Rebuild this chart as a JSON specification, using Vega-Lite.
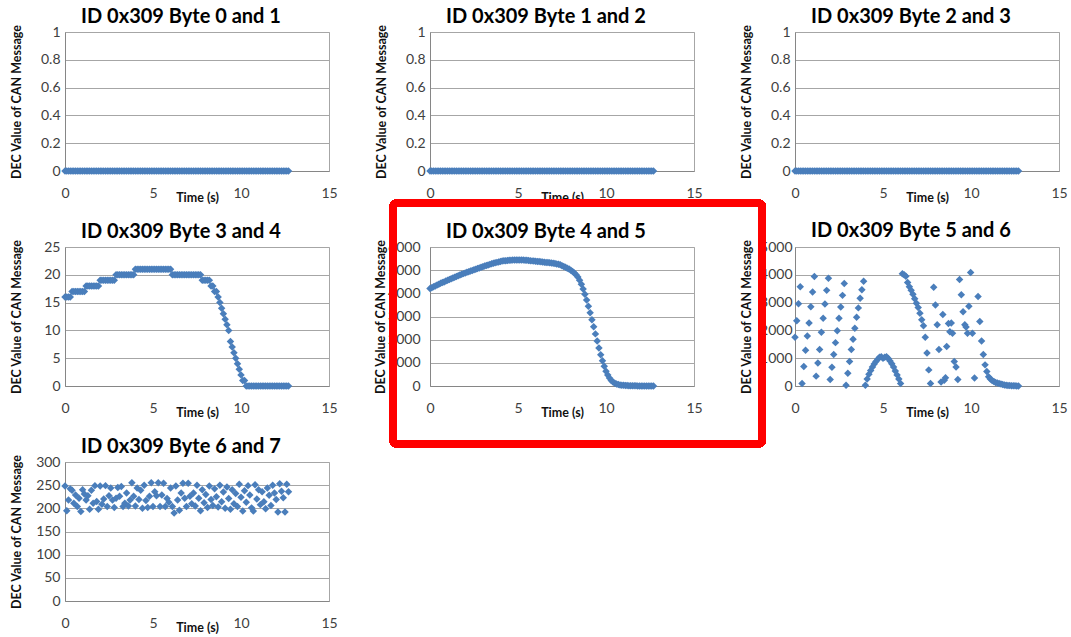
{
  "$schema": "https://vega.github.io/schema/vega-lite/v6.json",
  "background": "white",
  "padding": {"left": 9, "top": 6, "right": 0, "bottom": 0},
  "columns": 3,
  "bounds": "flush",
  "spacing": {"row": 76, "column": 101},
  "config": {
    "font": "Lato",
    "view": {"stroke": "#a6a6a6", "strokeWidth": 1},
    "point": {"shape": "diamond", "filled": true, "size": 56, "color": "#4a7ebb", "opacity": 1},
    "title": {"fontSize": 20, "fontWeight": "bold", "color": "#000000", "anchor": "middle", "dx": -16, "offset": -3},
    "axis": {"gridColor": "#a6a6a6", "gridWidth": 1, "domainColor": "#868686", "domainWidth": 1, "ticks": false, "tickSize": 0, "labelFontSize": 14, "labelColor": "#404040", "labelFlush": false, "labelOverlap": false, "titleFontSize": 12.5, "titleFontWeight": "bold", "titleColor": "#111111"},
    "axisX": {"grid": false, "labelPadding": 15, "titlePadding": -9},
    "axisY": {"labelPadding": 5, "minExtent": 30, "maxExtent": 30, "titlePadding": 12}
  },
  "datasets": {
    "zero": [{"t":0,"v":0},{"t":0.1,"v":0},{"t":0.2,"v":0},{"t":0.3,"v":0},{"t":0.4,"v":0},{"t":0.5,"v":0},{"t":0.6,"v":0},{"t":0.7,"v":0},{"t":0.8,"v":0},{"t":0.9,"v":0},{"t":1,"v":0},{"t":1.1,"v":0},{"t":1.2,"v":0},{"t":1.3,"v":0},{"t":1.4,"v":0},{"t":1.5,"v":0},{"t":1.6,"v":0},{"t":1.7,"v":0},{"t":1.8,"v":0},{"t":1.9,"v":0},{"t":2,"v":0},{"t":2.1,"v":0},{"t":2.2,"v":0},{"t":2.3,"v":0},{"t":2.4,"v":0},{"t":2.5,"v":0},{"t":2.6,"v":0},{"t":2.7,"v":0},{"t":2.8,"v":0},{"t":2.9,"v":0},{"t":3,"v":0},{"t":3.1,"v":0},{"t":3.2,"v":0},{"t":3.3,"v":0},{"t":3.4,"v":0},{"t":3.5,"v":0},{"t":3.6,"v":0},{"t":3.7,"v":0},{"t":3.8,"v":0},{"t":3.9,"v":0},{"t":4,"v":0},{"t":4.1,"v":0},{"t":4.2,"v":0},{"t":4.3,"v":0},{"t":4.4,"v":0},{"t":4.5,"v":0},{"t":4.6,"v":0},{"t":4.7,"v":0},{"t":4.8,"v":0},{"t":4.9,"v":0},{"t":5,"v":0},{"t":5.1,"v":0},{"t":5.2,"v":0},{"t":5.3,"v":0},{"t":5.4,"v":0},{"t":5.5,"v":0},{"t":5.6,"v":0},{"t":5.7,"v":0},{"t":5.8,"v":0},{"t":5.9,"v":0},{"t":6,"v":0},{"t":6.1,"v":0},{"t":6.2,"v":0},{"t":6.3,"v":0},{"t":6.4,"v":0},{"t":6.5,"v":0},{"t":6.6,"v":0},{"t":6.7,"v":0},{"t":6.8,"v":0},{"t":6.9,"v":0},{"t":7,"v":0},{"t":7.1,"v":0},{"t":7.2,"v":0},{"t":7.3,"v":0},{"t":7.4,"v":0},{"t":7.5,"v":0},{"t":7.6,"v":0},{"t":7.7,"v":0},{"t":7.8,"v":0},{"t":7.9,"v":0},{"t":8,"v":0},{"t":8.1,"v":0},{"t":8.2,"v":0},{"t":8.3,"v":0},{"t":8.4,"v":0},{"t":8.5,"v":0},{"t":8.6,"v":0},{"t":8.7,"v":0},{"t":8.8,"v":0},{"t":8.9,"v":0},{"t":9,"v":0},{"t":9.1,"v":0},{"t":9.2,"v":0},{"t":9.3,"v":0},{"t":9.4,"v":0},{"t":9.5,"v":0},{"t":9.6,"v":0},{"t":9.7,"v":0},{"t":9.8,"v":0},{"t":9.9,"v":0},{"t":10,"v":0},{"t":10.1,"v":0},{"t":10.2,"v":0},{"t":10.3,"v":0},{"t":10.4,"v":0},{"t":10.5,"v":0},{"t":10.6,"v":0},{"t":10.7,"v":0},{"t":10.8,"v":0},{"t":10.9,"v":0},{"t":11,"v":0},{"t":11.1,"v":0},{"t":11.2,"v":0},{"t":11.3,"v":0},{"t":11.4,"v":0},{"t":11.5,"v":0},{"t":11.6,"v":0},{"t":11.7,"v":0},{"t":11.8,"v":0},{"t":11.9,"v":0},{"t":12,"v":0},{"t":12.1,"v":0},{"t":12.2,"v":0},{"t":12.3,"v":0},{"t":12.4,"v":0},{"t":12.5,"v":0},{"t":12.6,"v":0},{"t":12.7,"v":0}],
    "b34": [{"t":0,"v":16},{"t":0.1,"v":16},{"t":0.2,"v":16},{"t":0.3,"v":16},{"t":0.4,"v":17},{"t":0.5,"v":17},{"t":0.6,"v":17},{"t":0.7,"v":17},{"t":0.8,"v":17},{"t":0.9,"v":17},{"t":1,"v":17},{"t":1.1,"v":17},{"t":1.2,"v":18},{"t":1.3,"v":18},{"t":1.4,"v":18},{"t":1.5,"v":18},{"t":1.6,"v":18},{"t":1.7,"v":18},{"t":1.8,"v":18},{"t":1.9,"v":18},{"t":2,"v":19},{"t":2.1,"v":19},{"t":2.2,"v":19},{"t":2.3,"v":19},{"t":2.4,"v":19},{"t":2.5,"v":19},{"t":2.6,"v":19},{"t":2.7,"v":19},{"t":2.8,"v":19},{"t":2.9,"v":20},{"t":3,"v":20},{"t":3.1,"v":20},{"t":3.2,"v":20},{"t":3.3,"v":20},{"t":3.4,"v":20},{"t":3.5,"v":20},{"t":3.6,"v":20},{"t":3.7,"v":20},{"t":3.8,"v":20},{"t":3.9,"v":20},{"t":4,"v":21},{"t":4.1,"v":21},{"t":4.2,"v":21},{"t":4.3,"v":21},{"t":4.4,"v":21},{"t":4.5,"v":21},{"t":4.6,"v":21},{"t":4.7,"v":21},{"t":4.8,"v":21},{"t":4.9,"v":21},{"t":5,"v":21},{"t":5.1,"v":21},{"t":5.2,"v":21},{"t":5.3,"v":21},{"t":5.4,"v":21},{"t":5.5,"v":21},{"t":5.6,"v":21},{"t":5.7,"v":21},{"t":5.8,"v":21},{"t":5.9,"v":21},{"t":6,"v":21},{"t":6.1,"v":20},{"t":6.2,"v":20},{"t":6.3,"v":20},{"t":6.4,"v":20},{"t":6.5,"v":20},{"t":6.6,"v":20},{"t":6.7,"v":20},{"t":6.8,"v":20},{"t":6.9,"v":20},{"t":7,"v":20},{"t":7.1,"v":20},{"t":7.2,"v":20},{"t":7.3,"v":20},{"t":7.4,"v":20},{"t":7.5,"v":20},{"t":7.6,"v":20},{"t":7.7,"v":20},{"t":7.8,"v":19},{"t":7.9,"v":19},{"t":8,"v":19},{"t":8.1,"v":19},{"t":8.2,"v":19},{"t":8.3,"v":18},{"t":8.4,"v":18},{"t":8.5,"v":17},{"t":8.6,"v":17},{"t":8.7,"v":16},{"t":8.8,"v":15},{"t":8.9,"v":14},{"t":9,"v":13},{"t":9.1,"v":12},{"t":9.2,"v":11},{"t":9.3,"v":10},{"t":9.4,"v":8},{"t":9.5,"v":7},{"t":9.6,"v":6},{"t":9.7,"v":5},{"t":9.8,"v":4},{"t":9.9,"v":3},{"t":10,"v":2},{"t":10.1,"v":1},{"t":10.2,"v":1},{"t":10.3,"v":0},{"t":10.4,"v":0},{"t":10.5,"v":0},{"t":10.6,"v":0},{"t":10.7,"v":0},{"t":10.8,"v":0},{"t":10.9,"v":0},{"t":11,"v":0},{"t":11.1,"v":0},{"t":11.2,"v":0},{"t":11.3,"v":0},{"t":11.4,"v":0},{"t":11.5,"v":0},{"t":11.6,"v":0},{"t":11.7,"v":0},{"t":11.8,"v":0},{"t":11.9,"v":0},{"t":12,"v":0},{"t":12.1,"v":0},{"t":12.2,"v":0},{"t":12.3,"v":0},{"t":12.4,"v":0},{"t":12.5,"v":0},{"t":12.6,"v":0},{"t":12.7,"v":0}],
    "b45": [{"t":0,"v":4205},{"t":0.1,"v":4243},{"t":0.2,"v":4281},{"t":0.3,"v":4319},{"t":0.4,"v":4358},{"t":0.5,"v":4396},{"t":0.6,"v":4433},{"t":0.7,"v":4465},{"t":0.8,"v":4494},{"t":0.9,"v":4530},{"t":1,"v":4563},{"t":1.1,"v":4598},{"t":1.2,"v":4630},{"t":1.3,"v":4660},{"t":1.4,"v":4690},{"t":1.5,"v":4729},{"t":1.6,"v":4760},{"t":1.7,"v":4792},{"t":1.8,"v":4823},{"t":1.9,"v":4851},{"t":2,"v":4879},{"t":2.1,"v":4906},{"t":2.2,"v":4935},{"t":2.3,"v":4961},{"t":2.4,"v":4988},{"t":2.5,"v":5016},{"t":2.6,"v":5041},{"t":2.7,"v":5068},{"t":2.8,"v":5095},{"t":2.9,"v":5122},{"t":3,"v":5148},{"t":3.1,"v":5175},{"t":3.2,"v":5202},{"t":3.3,"v":5225},{"t":3.4,"v":5250},{"t":3.5,"v":5274},{"t":3.6,"v":5296},{"t":3.7,"v":5317},{"t":3.8,"v":5336},{"t":3.9,"v":5356},{"t":4,"v":5378},{"t":4.1,"v":5392},{"t":4.2,"v":5402},{"t":4.3,"v":5411},{"t":4.4,"v":5419},{"t":4.5,"v":5425},{"t":4.6,"v":5431},{"t":4.7,"v":5436},{"t":4.8,"v":5440},{"t":4.9,"v":5442},{"t":5,"v":5438},{"t":5.1,"v":5440},{"t":5.2,"v":5442},{"t":5.3,"v":5438},{"t":5.4,"v":5432},{"t":5.5,"v":5426},{"t":5.6,"v":5418},{"t":5.7,"v":5410},{"t":5.8,"v":5401},{"t":5.9,"v":5392},{"t":6,"v":5382},{"t":6.1,"v":5372},{"t":6.2,"v":5370},{"t":6.3,"v":5367},{"t":6.4,"v":5352},{"t":6.5,"v":5343},{"t":6.6,"v":5335},{"t":6.7,"v":5326},{"t":6.8,"v":5316},{"t":6.9,"v":5306},{"t":7,"v":5296},{"t":7.1,"v":5284},{"t":7.2,"v":5269},{"t":7.3,"v":5256},{"t":7.4,"v":5229},{"t":7.5,"v":5194},{"t":7.6,"v":5156},{"t":7.7,"v":5125},{"t":7.8,"v":5086},{"t":7.9,"v":5046},{"t":8,"v":5000},{"t":8.1,"v":4946},{"t":8.2,"v":4880},{"t":8.3,"v":4800},{"t":8.4,"v":4700},{"t":8.5,"v":4560},{"t":8.6,"v":4390},{"t":8.7,"v":4190},{"t":8.8,"v":3960},{"t":8.9,"v":3710},{"t":9,"v":3440},{"t":9.1,"v":3160},{"t":9.2,"v":2860},{"t":9.3,"v":2560},{"t":9.4,"v":2250},{"t":9.5,"v":1940},{"t":9.6,"v":1640},{"t":9.7,"v":1350},{"t":9.8,"v":1090},{"t":9.9,"v":850},{"t":10,"v":640},{"t":10.1,"v":470},{"t":10.2,"v":340},{"t":10.3,"v":240},{"t":10.4,"v":170},{"t":10.5,"v":120},{"t":10.6,"v":85},{"t":10.7,"v":62},{"t":10.8,"v":46},{"t":10.9,"v":35},{"t":11,"v":28},{"t":11.1,"v":22},{"t":11.2,"v":18},{"t":11.3,"v":14},{"t":11.4,"v":11},{"t":11.5,"v":9},{"t":11.6,"v":7},{"t":11.7,"v":6},{"t":11.8,"v":5},{"t":11.9,"v":4},{"t":12,"v":3},{"t":12.1,"v":3},{"t":12.2,"v":2},{"t":12.3,"v":2},{"t":12.4,"v":1},{"t":12.5,"v":1},{"t":12.6,"v":1},{"t":12.7,"v":0}],
    "b56": [{"t":0,"v":1750},{"t":0.1,"v":2350},{"t":0.2,"v":2960},{"t":0.3,"v":3570},{"t":0.4,"v":90},{"t":0.5,"v":700},{"t":0.6,"v":1290},{"t":0.7,"v":1800},{"t":0.8,"v":2270},{"t":0.9,"v":2850},{"t":1,"v":3380},{"t":1.1,"v":3940},{"t":1.2,"v":355},{"t":1.3,"v":825},{"t":1.4,"v":1310},{"t":1.5,"v":1930},{"t":1.6,"v":2440},{"t":1.7,"v":2950},{"t":1.8,"v":3440},{"t":1.9,"v":3880},{"t":2,"v":235},{"t":2.1,"v":675},{"t":2.2,"v":1130},{"t":2.3,"v":1560},{"t":2.4,"v":1990},{"t":2.5,"v":2440},{"t":2.6,"v":2840},{"t":2.7,"v":3260},{"t":2.8,"v":3690},{"t":2.9,"v":25},{"t":3,"v":455},{"t":3.1,"v":885},{"t":3.2,"v":1310},{"t":3.3,"v":1680},{"t":3.4,"v":2080},{"t":3.5,"v":2470},{"t":3.6,"v":2810},{"t":3.7,"v":3160},{"t":3.8,"v":3460},{"t":3.9,"v":3770},{"t":4,"v":25},{"t":4.1,"v":250},{"t":4.2,"v":420},{"t":4.3,"v":560},{"t":4.4,"v":680},{"t":4.5,"v":790},{"t":4.6,"v":880},{"t":4.7,"v":960},{"t":4.8,"v":1030},{"t":4.9,"v":1050},{"t":5,"v":1000},{"t":5.1,"v":1030},{"t":5.2,"v":1050},{"t":5.3,"v":990},{"t":5.4,"v":900},{"t":5.5,"v":800},{"t":5.6,"v":680},{"t":5.7,"v":540},{"t":5.8,"v":400},{"t":5.9,"v":250},{"t":6,"v":90},{"t":6.1,"v":4040},{"t":6.2,"v":4000},{"t":6.3,"v":3950},{"t":6.4,"v":3720},{"t":6.5,"v":3570},{"t":6.6,"v":3440},{"t":6.7,"v":3300},{"t":6.8,"v":3140},{"t":6.9,"v":2980},{"t":7,"v":2820},{"t":7.1,"v":2620},{"t":7.2,"v":2380},{"t":7.3,"v":2170},{"t":7.4,"v":1750},{"t":7.5,"v":1190},{"t":7.6,"v":580},{"t":7.7,"v":86},{"t":7.88,"v":3550},{"t":7.98,"v":2910},{"t":8.08,"v":2200},{"t":8.18,"v":1310},{"t":8.3,"v":140},{"t":8.4,"v":2570},{"t":8.48,"v":210},{"t":8.55,"v":300},{"t":8.62,"v":1420},{"t":8.72,"v":2250},{"t":8.8,"v":1950},{"t":8.88,"v":2270},{"t":8.95,"v":1900},{"t":9.05,"v":880},{"t":9.15,"v":680},{"t":9.25,"v":230},{"t":9.35,"v":3830},{"t":9.45,"v":3280},{"t":9.55,"v":2670},{"t":9.65,"v":2200},{"t":9.72,"v":2120},{"t":9.8,"v":1900},{"t":9.88,"v":2870},{"t":9.98,"v":4080},{"t":10.08,"v":1900},{"t":10.2,"v":290},{"t":10.4,"v":3220},{"t":10.5,"v":2320},{"t":10.6,"v":1620},{"t":10.7,"v":1130},{"t":10.8,"v":760},{"t":10.9,"v":520},{"t":11,"v":330},{"t":11.1,"v":250},{"t":11.2,"v":200},{"t":11.3,"v":160},{"t":11.4,"v":130},{"t":11.5,"v":105},{"t":11.6,"v":86},{"t":11.7,"v":70},{"t":11.8,"v":55},{"t":11.9,"v":40},{"t":12,"v":30},{"t":12.1,"v":22},{"t":12.2,"v":15},{"t":12.3,"v":10},{"t":12.4,"v":8},{"t":12.5,"v":5},{"t":12.6,"v":3},{"t":12.7,"v":2}],
    "b67": [{"t":0,"v":248},{"t":0.1,"v":195},{"t":0.2,"v":218},{"t":0.3,"v":242},{"t":0.4,"v":239},{"t":0.5,"v":211},{"t":0.6,"v":229},{"t":0.7,"v":204},{"t":0.8,"v":222},{"t":0.9,"v":193},{"t":1,"v":240},{"t":1.1,"v":231},{"t":1.2,"v":218},{"t":1.3,"v":227},{"t":1.4,"v":198},{"t":1.5,"v":239},{"t":1.6,"v":211},{"t":1.7,"v":249},{"t":1.8,"v":215},{"t":1.9,"v":198},{"t":2,"v":248},{"t":2.1,"v":209},{"t":2.2,"v":220},{"t":2.3,"v":249},{"t":2.4,"v":204},{"t":2.5,"v":227},{"t":2.6,"v":244},{"t":2.7,"v":218},{"t":2.8,"v":202},{"t":2.9,"v":222},{"t":3,"v":245},{"t":3.1,"v":226},{"t":3.2,"v":247},{"t":3.3,"v":204},{"t":3.4,"v":211},{"t":3.5,"v":233},{"t":3.6,"v":205},{"t":3.7,"v":218},{"t":3.8,"v":255},{"t":3.9,"v":226},{"t":4,"v":205},{"t":4.1,"v":244},{"t":4.2,"v":219},{"t":4.3,"v":239},{"t":4.4,"v":200},{"t":4.5,"v":250},{"t":4.6,"v":217},{"t":4.7,"v":202},{"t":4.8,"v":226},{"t":4.9,"v":255},{"t":5,"v":204},{"t":5.1,"v":236},{"t":5.2,"v":227},{"t":5.3,"v":255},{"t":5.4,"v":204},{"t":5.5,"v":229},{"t":5.6,"v":254},{"t":5.7,"v":204},{"t":5.8,"v":221},{"t":5.9,"v":213},{"t":6,"v":244},{"t":6.1,"v":204},{"t":6.2,"v":190},{"t":6.3,"v":248},{"t":6.4,"v":218},{"t":6.5,"v":196},{"t":6.6,"v":233},{"t":6.7,"v":254},{"t":6.8,"v":222},{"t":6.9,"v":204},{"t":7,"v":254},{"t":7.1,"v":226},{"t":7.2,"v":210},{"t":7.3,"v":233},{"t":7.4,"v":205},{"t":7.5,"v":250},{"t":7.6,"v":222},{"t":7.7,"v":195},{"t":7.8,"v":240},{"t":7.9,"v":212},{"t":8,"v":230},{"t":8.1,"v":202},{"t":8.2,"v":248},{"t":8.3,"v":219},{"t":8.4,"v":206},{"t":8.5,"v":242},{"t":8.6,"v":225},{"t":8.7,"v":203},{"t":8.8,"v":250},{"t":8.9,"v":214},{"t":9,"v":235},{"t":9.1,"v":200},{"t":9.2,"v":246},{"t":9.3,"v":221},{"t":9.4,"v":198},{"t":9.5,"v":240},{"t":9.6,"v":210},{"t":9.7,"v":232},{"t":9.8,"v":204},{"t":9.9,"v":252},{"t":10,"v":224},{"t":10.1,"v":194},{"t":10.2,"v":238},{"t":10.3,"v":213},{"t":10.4,"v":249},{"t":10.5,"v":229},{"t":10.6,"v":201},{"t":10.7,"v":194},{"t":10.8,"v":251},{"t":10.9,"v":220},{"t":11,"v":240},{"t":11.1,"v":208},{"t":11.2,"v":236},{"t":11.3,"v":214},{"t":11.4,"v":199},{"t":11.5,"v":244},{"t":11.6,"v":228},{"t":11.7,"v":206},{"t":11.8,"v":250},{"t":11.9,"v":233},{"t":12,"v":219},{"t":12.1,"v":192},{"t":12.2,"v":253},{"t":12.3,"v":237},{"t":12.4,"v":223},{"t":12.5,"v":192},{"t":12.6,"v":252},{"t":12.7,"v":236}]
  },
  "concat": [
    {
      "title": "ID 0x309 Byte 0 and 1",
      "width": 264, "height": 139,
      "data": {"name": "zero"},
      "mark": "point",
      "encoding": {
        "x": {"field": "t", "type": "quantitative", "title": "Time (s)", "scale": {"domain": [0, 15], "nice": false}, "axis": {"values": [0, 5, 10, 15]}},
        "y": {"field": "v", "type": "quantitative", "title": "DEC Value of CAN Message", "scale": {"domain": [0, 1], "nice": false}, "axis": {"values": [0, 0.2, 0.4, 0.6, 0.8, 1], "format": "~g"}}
      }
    },
    {
      "title": "ID 0x309 Byte 1 and 2",
      "width": 264, "height": 139,
      "data": {"name": "zero"},
      "mark": "point",
      "encoding": {
        "x": {"field": "t", "type": "quantitative", "title": "Time (s)", "scale": {"domain": [0, 15], "nice": false}, "axis": {"values": [0, 5, 10, 15]}},
        "y": {"field": "v", "type": "quantitative", "title": "DEC Value of CAN Message", "scale": {"domain": [0, 1], "nice": false}, "axis": {"values": [0, 0.2, 0.4, 0.6, 0.8, 1], "format": "~g"}}
      }
    },
    {
      "title": "ID 0x309 Byte 2 and 3",
      "width": 264, "height": 139,
      "data": {"name": "zero"},
      "mark": "point",
      "encoding": {
        "x": {"field": "t", "type": "quantitative", "title": "Time (s)", "scale": {"domain": [0, 15], "nice": false}, "axis": {"values": [0, 5, 10, 15]}},
        "y": {"field": "v", "type": "quantitative", "title": "DEC Value of CAN Message", "scale": {"domain": [0, 1], "nice": false}, "axis": {"values": [0, 0.2, 0.4, 0.6, 0.8, 1], "format": "~g"}}
      }
    },
    {
      "title": "ID 0x309 Byte 3 and 4",
      "width": 264, "height": 139,
      "data": {"name": "b34"},
      "mark": "point",
      "encoding": {
        "x": {"field": "t", "type": "quantitative", "title": "Time (s)", "scale": {"domain": [0, 15], "nice": false}, "axis": {"values": [0, 5, 10, 15]}},
        "y": {"field": "v", "type": "quantitative", "title": "DEC Value of CAN Message", "scale": {"domain": [0, 25], "nice": false}, "axis": {"values": [0, 5, 10, 15, 20, 25]}}
      }
    },
    {
      "title": "ID 0x309 Byte 4 and 5",
      "width": 264, "height": 139,
      "data": {"name": "b45"},
      "mark": "point",
      "encoding": {
        "x": {"field": "t", "type": "quantitative", "title": "Time (s)", "scale": {"domain": [0, 15], "nice": false}, "axis": {"values": [0, 5, 10, 15]}},
        "y": {"field": "v", "type": "quantitative", "title": "DEC Value of CAN Message", "scale": {"domain": [0, 6000], "nice": false}, "axis": {"values": [0, 1000, 2000, 3000, 4000, 5000, 6000], "format": "d", "labelPadding": 10, "titlePadding": 13}}
      }
    },
    {
      "title": {"text": "ID 0x309 Byte 5 and 6", "offset": -41.5},
      "width": 264, "height": 139,
      "data": {"name": "b56"},
      "layer": [
        {
          "mark": "point",
          "encoding": {
            "x": {"field": "t", "type": "quantitative", "title": "Time (s)", "scale": {"domain": [0, 15], "nice": false}, "axis": {"values": [0, 5, 10, 15]}},
            "y": {"field": "v", "type": "quantitative", "title": "DEC Value of CAN Message", "scale": {"domain": [0, 5000], "nice": false}, "axis": {"values": [0, 1000, 2000, 3000, 4000, 5000], "format": "d", "labelPadding": 3, "titlePadding": 12}}
          }
        },
        {
          "mark": {"type": "rect", "filled": false, "stroke": "#ff0000", "strokeWidth": 7, "cornerRadius": 4},
          "encoding": {
            "x": {"datum": -22.85, "type": "quantitative", "title": "Time (s)", "axis": {"values": [0, 5, 10, 15]}},
            "x2": {"datum": -1.85},
            "y": {"datum": 6583, "type": "quantitative", "title": "DEC Value of CAN Message", "axis": {"values": [0, 1000, 2000, 3000, 4000, 5000], "format": "d", "labelPadding": 3, "titlePadding": 12}},
            "y2": {"datum": -2086}
          }
        }
      ]
    },
    {
      "title": "ID 0x309 Byte 6 and 7",
      "width": 264, "height": 139,
      "data": {"name": "b67"},
      "mark": "point",
      "encoding": {
        "x": {"field": "t", "type": "quantitative", "title": "Time (s)", "scale": {"domain": [0, 15], "nice": false}, "axis": {"values": [0, 5, 10, 15]}},
        "y": {"field": "v", "type": "quantitative", "title": "DEC Value of CAN Message", "scale": {"domain": [0, 300], "nice": false}, "axis": {"values": [0, 50, 100, 150, 200, 250, 300]}}
      }
    }
  ]
}
